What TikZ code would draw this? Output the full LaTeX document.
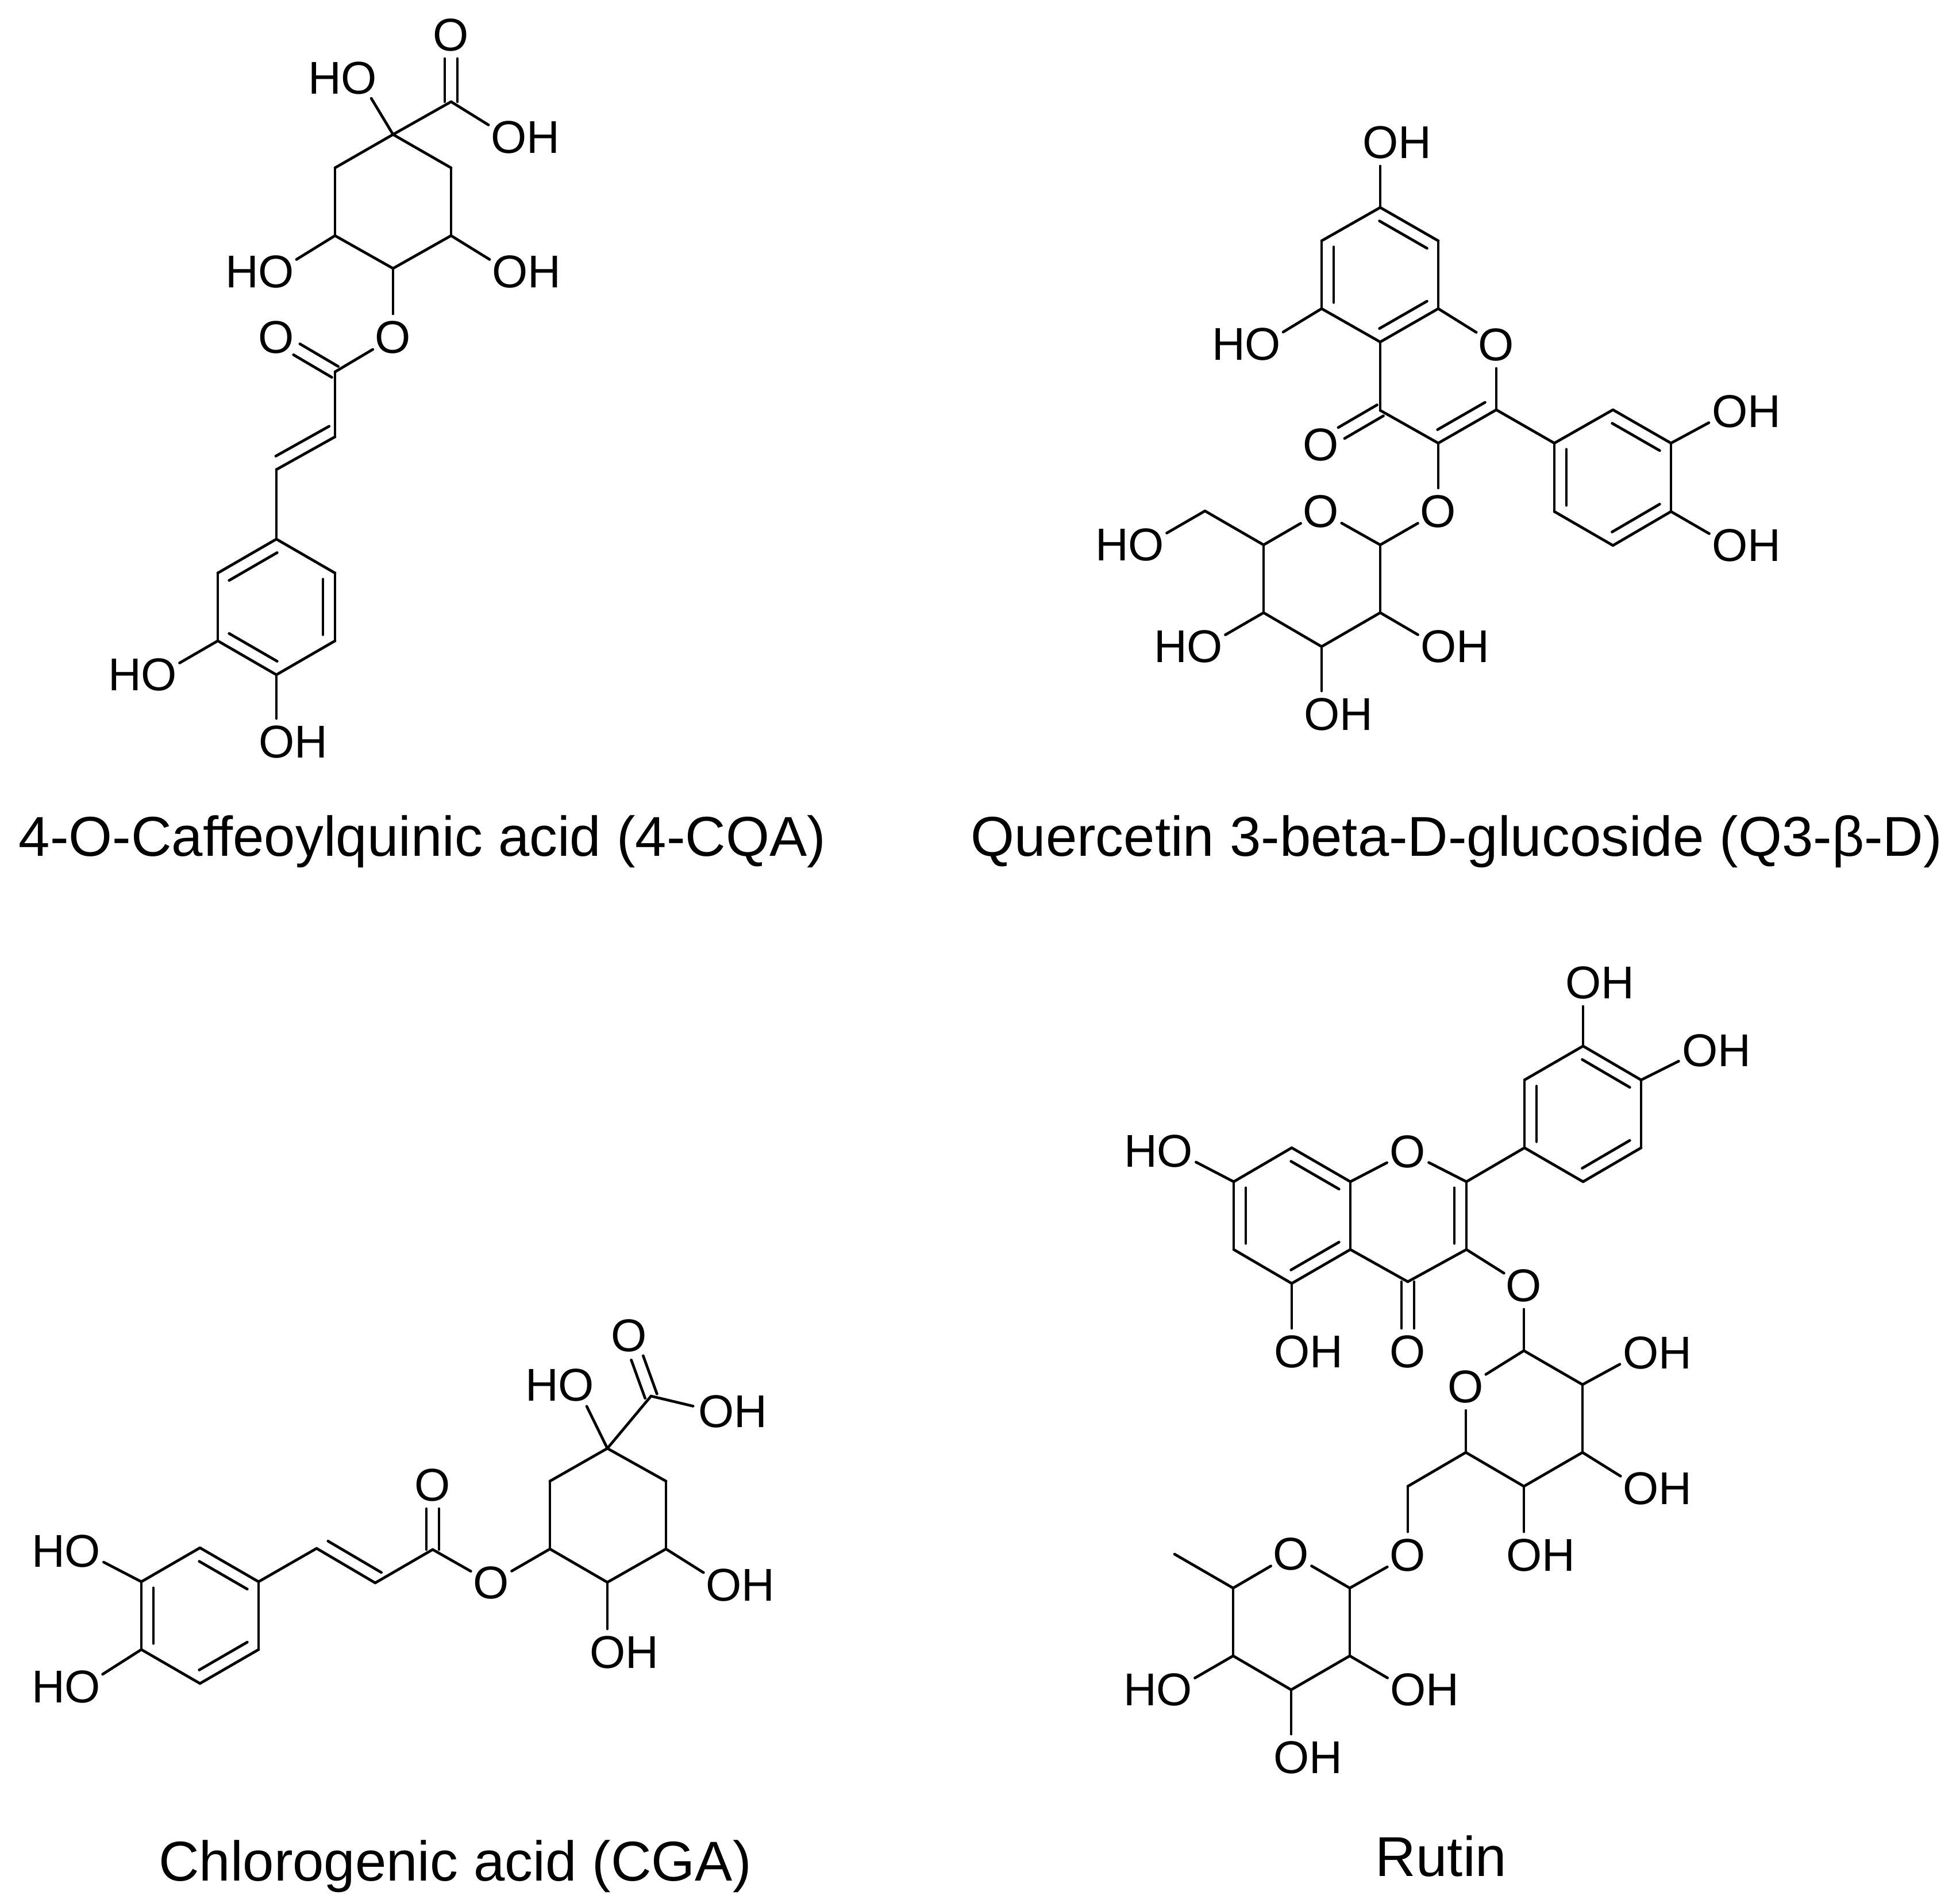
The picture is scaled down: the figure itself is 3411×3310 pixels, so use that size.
\documentclass[tikz,border=0pt]{standalone}
\usepackage{fontspec}
\setmainfont{Liberation Sans}
\usetikzlibrary{calc}
\tikzset{
  x=0.5pt,y=-0.5pt,
  bond/.style={line width=2.35pt,line cap=round,black},
  toatom/.style={bond,shorten >=20.5pt},
  atom/.style={inner sep=0pt,font=\fontsize{40}{48}\selectfont},
  caption/.style={inner sep=0pt,anchor=base,font=\fontsize{48.85}{56}\selectfont}
}
% heteroatom centre is a coordinate; the label is set around it
\newcommand{\OH}[2]{\coordinate (#1) at (#2);\node[atom] (#1t) at ([xshift=14.5pt]#1) {OH};}
\newcommand{\HO}[2]{\coordinate (#1) at (#2);\node[atom] (#1t) at ([xshift=-14.5pt]#1) {HO};}
\newcommand{\Ox}[2]{\node[atom] (#1) at (#2) {O};}
% second line of a double bond, left of a->b on screen, with trimmed ends
\newcommand{\dbl}[4]{\draw[bond] ($($(#1)!10.5pt!90:(#2)$)!#3!($(#2)!10.5pt!-90:(#1)$)$) -- ($($(#1)!10.5pt!90:(#2)$)!#4!($(#2)!10.5pt!-90:(#1)$)$);}
\newcommand{\ring}[2]{\draw[bond] (#1)--(#2);\dbl{#1}{#2}{.09}{.91}}
\newcommand{\dblO}[2]{%
  \draw[toatom] ($(#1)!5.5pt!90:(#2)$) -- ($(#2.center)!5.5pt!-90:(#1)$);
  \draw[toatom] ($(#1)!5.5pt!-90:(#2)$) -- ($(#2.center)!5.5pt!90:(#1)$);}
\newcommand{\bonds}[1]{\foreach \a/\b in {#1}{\draw[bond] (\a)--(\b);}}
\newcommand{\tobonds}[1]{\foreach \a/\b in {#1}{\draw[toatom] (\a)--(\b.center);}}
\begin{document}
\begin{tikzpicture}
\useasboundingbox (0,0) rectangle (3411,3310);
% ---------- 4-CQA
\foreach \n/\p in {a1/{684,234},a2/{583,292},a3/{583,410},a4/{684,467},a5/{785,410},a6/{785,292},
  a7/{785,177},a8/{583,647},a9/{583,760},a10/{481,817},
  r1/{481,938},r2/{379,997},r3/{379,1115},r4/{481,1174},r5/{583,1115},r6/{583,997}}
  {\coordinate (\n) at (\p);}
\Ox{ao1}{785,61}\OH{ao2}{885,239}\HO{ao3}{625,136}\OH{ao4}{887,473}\HO{ao5}{481,473}
\Ox{ao6}{684,587}\Ox{ao7}{481,587}\HO{ao8}{277,1174}\OH{ao9}{481,1291}
\bonds{a1/a2,a2/a3,a3/a4,a4/a5,a5/a6,a6/a1,a1/a7,a8/a9,a10/r1,r2/r3,r4/r5,r6/r1}
\tobonds{a7/ao2,a1/ao3,a5/ao4,a3/ao5,a4/ao6,a8/ao6,r3/ao8,r4/ao9}
\dblO{a7}{ao1}\dblO{a8}{ao7}
\draw[bond] (a9)--(a10);\dbl{a10}{a9}{.09}{1}
\ring{r1}{r2}\ring{r3}{r4}\ring{r5}{r6}
\node[caption] (cap1) at (735,1489) {4-O-Caffeoylquinic acid (4-CQA)};
% ---------- Q3-beta-D
\foreach \n/\p in {b1/{2402,714},b2/{2402,595},b3/{2503,537},b4/{2503,419},b5/{2402,361},b6/{2300,419},b7/{2300,537},
  b8/{2503,771},b9/{2604,713},
  c1/{2705,771},c2/{2705,890},c3/{2807,949},c4/{2908,890},c5/{2908,771},c6/{2807,713},
  s1/{2402,948},s2/{2402,1066},s3/{2300,1125},s4/{2199,1066},s5/{2199,948},s6/{2097,889}}
  {\coordinate (\n) at (\p);}
\Ox{bo1}{2604,600}\Ox{bo2}{2299,774}\Ox{bo3}{2503,890}\Ox{so1}{2299,890}
\OH{bo4}{2402,248}\HO{bo5}{2198,599}\OH{co1}{3010,716}\OH{co2}{3010,949}
\HO{so2}{1995,948}\HO{so3}{2097,1125}\OH{so4}{2300,1243}\OH{so5}{2503,1125}
\bonds{b1/b2,b3/b4,b5/b6,b7/b2,b1/b8,b9/c1,c2/c3,c4/c5,c6/c1,s1/s2,s2/s3,s3/s4,s4/s5,s5/s6}
\tobonds{b3/bo1,b9/bo1,b8/bo3,s1/bo3,s1/so1,s5/so1,b5/bo4,b7/bo5,c5/co1,c4/co2,s6/so2,s4/so3,s3/so4,s2/so5}
\ring{b2}{b3}\ring{b4}{b5}\ring{b6}{b7}\ring{b8}{b9}\ring{c1}{c2}\ring{c3}{c4}\ring{c5}{c6}
\dblO{b1}{bo2}
\node[caption] (cap2) at (2535,1489) {Quercetin 3-beta-D-glucoside (Q3-β-D)};
% ---------- CGA
\foreach \n/\p in {g1/{1057,2520},g2/{957,2577},g3/{957,2695},g4/{1057,2753},g5/{1159,2695},g6/{1159,2577},
  g7/{1133,2429},g8/{753,2696},g9/{653,2754},g10/{551,2694},
  h1/{450,2752},h2/{348,2693},h3/{246,2752},h4/{246,2870},h5/{348,2929},h6/{450,2870}}
  {\coordinate (\n) at (\p);}
\Ox{go1}{1095,2324}\OH{go2}{1246,2456}\HO{go3}{1003,2410}\OH{go4}{1259,2758}\OH{go5}{1057,2875}
\Ox{go6}{855,2754}\Ox{go7}{753,2584}\HO{ho1}{144,2699}\HO{ho2}{144,2935}
\bonds{g1/g2,g2/g3,g3/g4,g4/g5,g5/g6,g6/g1,g1/g7,g8/g9,g10/h1,h2/h3,h4/h5,h6/h1}
\tobonds{g7/go2,g1/go3,g5/go4,g4/go5,g3/go6,g8/go6,h3/ho1,h4/ho2}
\dblO{g7}{go1}\dblO{g8}{go7}
\draw[bond] (g9)--(g10);\dbl{g10}{g9}{.09}{1}
\ring{h1}{h2}\ring{h3}{h4}\ring{h5}{h6}
\node[caption] (cap3) at (792,3272) {Chlorogenic acid (CGA)};
% ---------- Rutin
\foreach \n/\p in {k1/{2450,2230},k2/{2552,2174},k3/{2552,2056},k4/{2350,2056},k5/{2248,1997},k6/{2147,2056},k7/{2147,2174},k8/{2248,2233},k9/{2350,2174},
  m1/{2653,1997},m2/{2653,1879},m3/{2755,1820},m4/{2856,1879},m5/{2856,1997},m6/{2755,2056},
  n1/{2652,2350},n2/{2551,2527},n3/{2652,2586},n4/{2754,2527},n5/{2754,2409},n6/{2450,2586},
  p1/{2349,2763},p2/{2146,2763},p3/{2044,2704},p4/{2146,2881},p5/{2247,2940},p6/{2349,2881}}
  {\coordinate (\n) at (\p);}
\Ox{ko1}{2450,2004}\Ox{ko2}{2450,2352}\Ox{ko3}{2652,2237}\Ox{no1}{2551,2413}\Ox{no2}{2450,2706}\Ox{po1}{2247,2704}
\HO{ko4}{2045,2003}\OH{ko5}{2248,2352}\OH{mo1}{2755,1710}\OH{mo2}{2958,1828}
\OH{no3}{2855,2354}\OH{no4}{2855,2590}\OH{no5}{2652,2706}
\HO{po2}{2044,2940}\OH{po3}{2247,3058}\OH{po4}{2450,2940}
\bonds{k1/k2,k3/m1,m1/m6,k5/k6,k7/k8,k9/k4,k9/k1,m2/m3,m4/m5,n1/n5,n5/n4,n4/n3,n3/n2,n2/n6,p1/p6,p6/p5,p5/p4,p4/p2,p2/p3}
\tobonds{k3/ko1,k4/ko1,k2/ko3,n1/ko3,n1/no1,n2/no1,n6/no2,p1/no2,p1/po1,p2/po1,k6/ko4,k8/ko5,m3/mo1,m4/mo2,n5/no3,n4/no4,n3/no5,p4/po2,p5/po3,p6/po4}
\ring{k2}{k3}\ring{k4}{k5}\ring{k6}{k7}\ring{k8}{k9}\ring{m2}{m1}\ring{m4}{m3}\ring{m6}{m5}
\dblO{k1}{ko2}
\node[caption] (cap4) at (2508,3264) {Rutin};
\end{tikzpicture}
\end{document}
